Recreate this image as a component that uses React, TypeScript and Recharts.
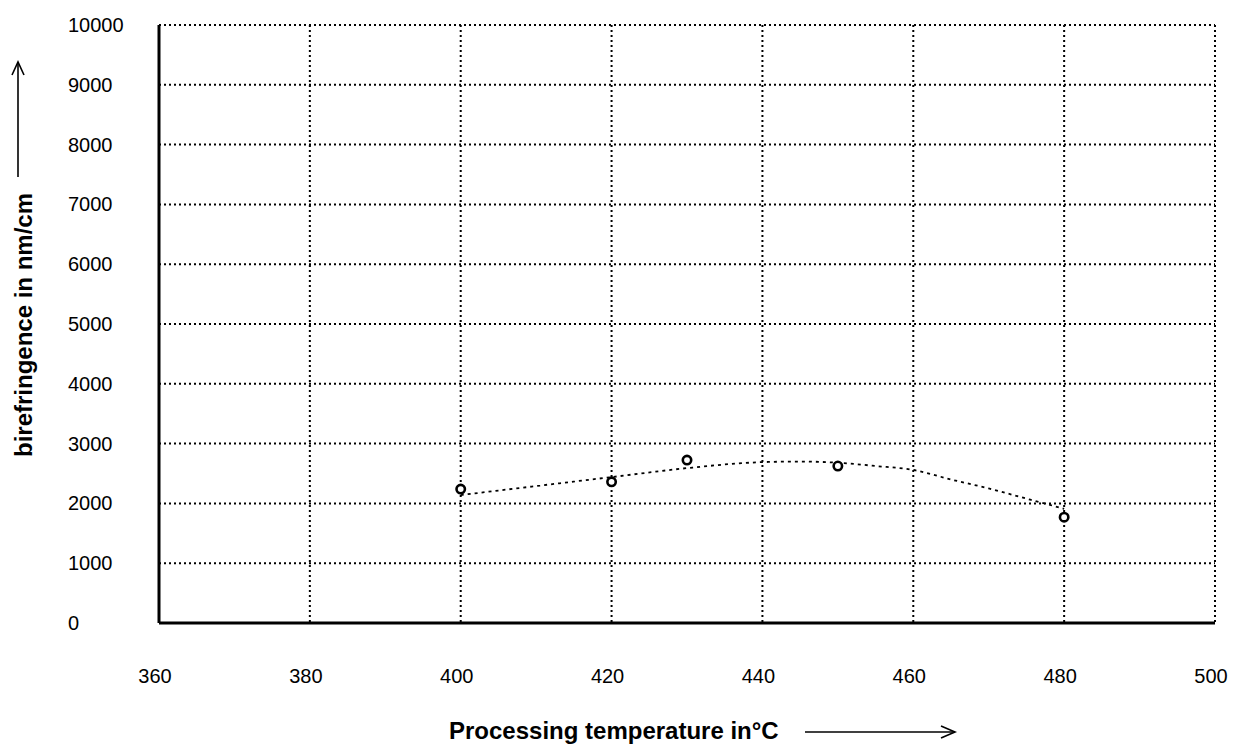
import {
  ComposedChart,
  Line,
  Scatter,
  XAxis,
  YAxis,
  CartesianGrid,
} from 'recharts';

// measured points
const measuredTemp = [400, 420, 430, 450, 480];
const measuredBiref = [2240, 2360, 2725, 2625, 1770];

// dotted trend curve
const trendTemp = [400, 410, 420, 430, 440, 445, 450, 455, 460, 465, 470, 475, 480];
const trendBiref = [2140, 2290, 2440, 2590, 2690, 2700, 2680, 2625, 2560, 2400, 2250, 2080, 1910];

const xTicks = [360, 380, 400, 420, 440, 460, 480, 500];
const yTicks = [0, 1000, 2000, 3000, 4000, 5000, 6000, 7000, 8000, 9000, 10000];

const measured = measuredTemp.map((t, i) => ({ temp: t, biref: measuredBiref[i] }));
const trend = trendTemp.map((t, i) => ({ temp: t, biref: trendBiref[i] }));

const font = '"Liberation Sans", Arial, sans-serif';

const XTick = ({ x, y, payload }: any) => (
  <text x={x - 4} y={y + 58} textAnchor="middle" fontSize={20} fontFamily={font} fill="#000">
    {payload.value}
  </text>
);

const YTick = ({ y, payload }: any) => (
  <text x={68} y={y} dy={7} textAnchor="start" fontSize={20} fontFamily={font} fill="#000">
    {payload.value}
  </text>
);

const Dot = ({ cx, cy }: any) => (
  <circle cx={cx} cy={cy} r={4.2} fill="#fff" stroke="#000" strokeWidth={2.6} />
);

export default function App() {
  return (
    <div style={{ position: 'absolute', left: 0, top: 0, width: 1237, height: 744, background: '#fff' }}>
      <ComposedChart
        width={1237}
        height={744}
        margin={{ top: 25, right: 22, bottom: 0, left: 0 }}
      >
        <CartesianGrid stroke="#000" strokeWidth={2} strokeDasharray="2 3" />
        <XAxis
          type="number"
          dataKey="temp"
          domain={[360, 500]}
          ticks={xTicks}
          height={121}
          tickLine={false}
          tickSize={0}
          tick={<XTick />}
          axisLine={{ stroke: '#000', strokeWidth: 3 }}
          allowDataOverflow
        />
        <YAxis
          type="number"
          dataKey="biref"
          domain={[0, 10000]}
          ticks={yTicks}
          width={159}
          tickLine={false}
          tickSize={0}
          tick={<YTick />}
          axisLine={{ stroke: '#000', strokeWidth: 3 }}
          allowDataOverflow
        />
        <Line
          data={trend}
          dataKey="biref"
          type="monotone"
          stroke="#000"
          strokeWidth={1.8}
          strokeDasharray="3 4"
          dot={false}
          activeDot={false}
          isAnimationActive={false}
        />
        <Scatter data={measured} dataKey="biref" shape={<Dot />} isAnimationActive={false} />

        {/* y title with arrow */}
        <text
          x={32}
          y={325}
          transform="rotate(-90 32 325)"
          textAnchor="middle"
          fontSize={24}
          fontWeight="bold"
          fontFamily={font}
          fill="#000"
        >
          birefringence in nm/cm
        </text>
        <line x1={18} y1={177} x2={18} y2={62} stroke="#000" strokeWidth={1.6} />
        <polyline points="12,75 18,62 24,75" fill="none" stroke="#000" strokeWidth={1.6} />

        {/* x title with arrow */}
        <text x={449} y={739} fontSize={24} fontWeight="bold" fontFamily={font} fill="#000">
          Processing temperature in°C
        </text>
        <line x1={805} y1={732} x2={955} y2={732} stroke="#000" strokeWidth={1.6} />
        <polyline points="941,726 955,732 941,738" fill="none" stroke="#000" strokeWidth={1.6} />
      </ComposedChart>
    </div>
  );
}
